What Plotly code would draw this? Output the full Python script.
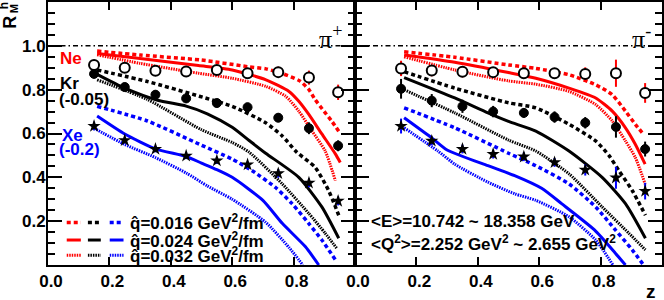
import plotly.graph_objects as go
import numpy as np

# ---------------- data ----------------
Z_PTS = [0.15, 0.25, 0.35, 0.45, 0.55, 0.65, 0.75, 0.85, 0.945]

# pi+ (left panel) measured points
PIP_NE = [0.913, 0.900, 0.886, 0.883, 0.890, 0.875, 0.880, 0.855, 0.788]
PIP_NE_ERR = [0.02, 0.015, 0.015, 0.015, 0.02, 0.025, 0.025, 0.032, 0.035]
PIP_KR = [0.872, 0.812, 0.777, 0.760, 0.739, 0.720, 0.672, 0.624, 0.544]
PIP_KR_ERR = [0.02, 0.02, 0.02, 0.02, 0.02, 0.02, 0.02, 0.027, 0.025]
PIP_XE = [0.634, 0.569, 0.529, 0.498, 0.476, 0.458, 0.418, 0.375, 0.292]
PIP_XE_ERR = [0.02, 0.015, 0.015, 0.015, 0.015, 0.015, 0.02, 0.02, 0.02]

# pi- (right panel) measured points
PIM_NE = [0.897, 0.887, 0.882, 0.880, 0.875, 0.875, 0.872, 0.875, 0.785]
PIM_NE_ERR = [0.035, 0.026, 0.026, 0.022, 0.02, 0.02, 0.03, 0.062, 0.045]
PIM_KR = [0.804, 0.750, 0.724, 0.700, 0.694, 0.675, 0.649, 0.630, 0.529]
PIM_KR_ERR = [0.045, 0.03, 0.03, 0.026, 0.022, 0.026, 0.026, 0.049, 0.034]
PIM_XE = [0.634, 0.566, 0.529, 0.506, 0.494, 0.468, 0.434, 0.398, 0.337]
PIM_XE_ERR = [0.034, 0.02, 0.02, 0.02, 0.02, 0.02, 0.026, 0.05, 0.038]

# theory curves, pi+ (left)
L_NE_DASH_Z = [0.16, 0.30, 0.50, 0.65, 0.71, 0.76, 0.82, 0.85, 0.87, 0.90, 0.925, 0.947]
L_NE_DASH_R = [0.976, 0.958, 0.935, 0.905, 0.895, 0.875, 0.84, 0.80, 0.755, 0.70, 0.655, 0.61]
L_NE_SOLID_Z = [0.16, 0.30, 0.49, 0.60, 0.71, 0.785, 0.817, 0.849, 0.892, 0.936, 0.952]
L_NE_SOLID_R = [0.965, 0.942, 0.91, 0.89, 0.845, 0.792, 0.747, 0.688, 0.598, 0.507, 0.468]
L_NE_DOT_Z = [0.16, 0.30, 0.49, 0.60, 0.71, 0.774, 0.817, 0.86, 0.903, 0.936]
L_NE_DOT_R = [0.959, 0.92, 0.875, 0.852, 0.815, 0.77, 0.702, 0.611, 0.52, 0.385]

L_KR_DASH_Z = [0.16, 0.324, 0.493, 0.60, 0.709, 0.763, 0.81, 0.87, 0.914, 0.947]
L_KR_DASH_R = [0.89, 0.837, 0.77, 0.724, 0.649, 0.589, 0.515, 0.446, 0.34, 0.227]
L_KR_SOLID_Z = [0.16, 0.25, 0.357, 0.45, 0.519, 0.60, 0.655, 0.709, 0.817, 0.892, 0.947]
L_KR_SOLID_R = [0.87, 0.807, 0.752, 0.725, 0.69, 0.628, 0.568, 0.51, 0.40, 0.265, 0.122]
L_KR_DOT_Z = [0.16, 0.324, 0.50, 0.60, 0.655, 0.763, 0.849, 0.903, 0.94]
L_KR_DOT_R = [0.845, 0.755, 0.617, 0.559, 0.515, 0.37, 0.236, 0.145, 0.077]

L_XE_DASH_Z = [0.16, 0.324, 0.493, 0.60, 0.665, 0.74, 0.795, 0.849, 0.892, 0.936]
L_XE_DASH_R = [0.724, 0.657, 0.551, 0.483, 0.43, 0.355, 0.28, 0.19, 0.114, 0.024]
L_XE_SOLID_Z = [0.16, 0.25, 0.35, 0.45, 0.50, 0.55, 0.60, 0.70, 0.763, 0.838, 0.882]
L_XE_SOLID_R = [0.68, 0.598, 0.53, 0.495, 0.465, 0.435, 0.40, 0.295, 0.19, 0.084, 0.0]
L_XE_DOT_Z = [0.15, 0.25, 0.35, 0.45, 0.52, 0.60, 0.709, 0.785, 0.83]
L_XE_DOT_R = [0.624, 0.55, 0.49, 0.42, 0.36, 0.30, 0.195, 0.08, 0.0]

# theory curves, pi- (right)
R_NE_DASH_Z = [0.16, 0.325, 0.50, 0.589, 0.697, 0.784, 0.838, 0.881, 0.913, 0.94]
R_NE_DASH_R = [0.973, 0.948, 0.913, 0.897, 0.868, 0.822, 0.777, 0.702, 0.642, 0.596]
R_NE_SOLID_Z = [0.16, 0.325, 0.50, 0.589, 0.697, 0.784, 0.838, 0.881, 0.913, 0.945]
R_NE_SOLID_R = [0.958, 0.925, 0.878, 0.852, 0.807, 0.762, 0.702, 0.626, 0.551, 0.46]
R_NE_DOT_Z = [0.16, 0.325, 0.50, 0.589, 0.697, 0.784, 0.838, 0.881, 0.913, 0.945]
R_NE_DOT_R = [0.95, 0.89, 0.84, 0.825, 0.792, 0.732, 0.657, 0.566, 0.491, 0.37]

R_KR_DASH_Z = [0.16, 0.325, 0.50, 0.589, 0.697, 0.784, 0.827, 0.86, 0.903, 0.946]
R_KR_DASH_R = [0.882, 0.807, 0.74, 0.717, 0.642, 0.566, 0.50, 0.43, 0.34, 0.227]
R_KR_SOLID_Z = [0.16, 0.325, 0.433, 0.50, 0.589, 0.697, 0.805, 0.881, 0.946]
R_KR_SOLID_R = [0.855, 0.762, 0.694, 0.655, 0.611, 0.52, 0.40, 0.28, 0.122]
R_KR_DOT_Z = [0.16, 0.325, 0.50, 0.589, 0.697, 0.805, 0.892, 0.946]
R_KR_DOT_R = [0.80, 0.694, 0.57, 0.52, 0.416, 0.265, 0.145, 0.069]

R_XE_DASH_Z = [0.16, 0.325, 0.50, 0.589, 0.697, 0.784, 0.848, 0.903, 0.94]
R_XE_DASH_R = [0.717, 0.626, 0.51, 0.453, 0.37, 0.265, 0.16, 0.069, 0.0]
R_XE_SOLID_Z = [0.16, 0.25, 0.30, 0.433, 0.52, 0.608, 0.673, 0.78, 0.848, 0.881]
R_XE_SOLID_R = [0.672, 0.58, 0.525, 0.453, 0.408, 0.35, 0.28, 0.16, 0.054, 0.0]
R_XE_DOT_Z = [0.16, 0.27, 0.325, 0.433, 0.52, 0.589, 0.697, 0.784, 0.84]
R_XE_DOT_R = [0.626, 0.52, 0.46, 0.378, 0.325, 0.295, 0.22, 0.114, 0.0]

X_TICKS = [0.0, 0.2, 0.4, 0.6, 0.8]
X_LABELS = ["0.0", "0.2", "0.4", "0.6", "0.8"]
Y_TICKS = [0.2, 0.4, 0.6, 0.8, 1.0]
Y_LABELS = ["0.2", "0.4", "0.6", "0.8", "1.0"]
QHAT_LABELS = ["0.016", "0.024", "0.032"]

# ---------------- styling ----------------
RED, BLACK, BLUE = "#ff0000", "#000000", "#0000ff"
FONT = "Liberation Sans"
STYLES = {
    "dash": dict(width=3.5, dash="4px,3px"),
    "solid": dict(width=3, dash="solid"),
    "dot": dict(width=3, dash="1.5px,1px"),
}

fig = go.Figure()


def add_curve(z, r, color, style, xa, ya):
    fig.add_trace(go.Scatter(
        x=z, y=r, mode="lines", xaxis=xa, yaxis=ya,
        line=dict(color=color, shape="spline", smoothing=0.6, **STYLES[style]),
        showlegend=False, hoverinfo="skip"))


def add_points(r, err, ecolor, symbol, fill, size, lw, xa, ya):
    fig.add_trace(go.Scatter(
        x=Z_PTS, y=r, mode="markers", xaxis=xa, yaxis=ya,
        error_y=dict(type="data", array=err, color=ecolor, thickness=2, width=0),
        marker=dict(symbol=symbol, size=size, color=fill,
                    line=dict(color="black", width=lw)),
        showlegend=False, hoverinfo="skip"))


panels = [
    ("x", "y",
     [(L_NE_DASH_Z, L_NE_DASH_R, RED, "dash"), (L_NE_SOLID_Z, L_NE_SOLID_R, RED, "solid"),
      (L_NE_DOT_Z, L_NE_DOT_R, RED, "dot"),
      (L_KR_DASH_Z, L_KR_DASH_R, BLACK, "dash"), (L_KR_SOLID_Z, L_KR_SOLID_R, BLACK, "solid"),
      (L_KR_DOT_Z, L_KR_DOT_R, BLACK, "dot"),
      (L_XE_DASH_Z, L_XE_DASH_R, BLUE, "dash"), (L_XE_SOLID_Z, L_XE_SOLID_R, BLUE, "solid"),
      (L_XE_DOT_Z, L_XE_DOT_R, BLUE, "dot")],
     (PIP_NE, PIP_NE_ERR), (PIP_KR, PIP_KR_ERR), (PIP_XE, PIP_XE_ERR)),
    ("x2", "y2",
     [(R_NE_DASH_Z, R_NE_DASH_R, RED, "dash"), (R_NE_SOLID_Z, R_NE_SOLID_R, RED, "solid"),
      (R_NE_DOT_Z, R_NE_DOT_R, RED, "dot"),
      (R_KR_DASH_Z, R_KR_DASH_R, BLACK, "dash"), (R_KR_SOLID_Z, R_KR_SOLID_R, BLACK, "solid"),
      (R_KR_DOT_Z, R_KR_DOT_R, BLACK, "dot"),
      (R_XE_DASH_Z, R_XE_DASH_R, BLUE, "dash"), (R_XE_SOLID_Z, R_XE_SOLID_R, BLUE, "solid"),
      (R_XE_DOT_Z, R_XE_DOT_R, BLUE, "dot")],
     (PIM_NE, PIM_NE_ERR), (PIM_KR, PIM_KR_ERR), (PIM_XE, PIM_XE_ERR)),
]

for xa, ya, curves, ne, kr, xe in panels:
    for z, r, c, s in curves:
        add_curve(z, r, c, s, xa, ya)
    add_points(xe[0], xe[1], BLUE, "star", "black", 10, 0, xa, ya)
    add_points(kr[0], kr[1], BLACK, "circle", "black", 9, 1, xa, ya)
    add_points(ne[0], ne[1], RED, "circle", "white", 10, 2, xa, ya)

# ---------------- axes ----------------
tickfont = dict(family=FONT, size=17, color="black", weight="bold")
xcommon = dict(range=[0, 1], showline=True, linecolor="black", linewidth=2,
               mirror="allticks", ticks="inside", ticklen=8, tickwidth=1.5,
               tickcolor="black", tickvals=X_TICKS, ticktext=X_LABELS,
               tickfont=tickfont, showgrid=False, zeroline=False,
               ticklabelshift=3)
ycommon = dict(range=[0, 1.2], showline=True, linecolor="black", linewidth=2,
               mirror="allticks", ticks="inside", ticklen=14, tickwidth=1.5,
               tickcolor="black", tickvals=Y_TICKS, ticktext=Y_LABELS,
               tickfont=tickfont, showgrid=False, zeroline=False,
               minor=dict(tickmode="linear", tick0=0, dtick=0.05, ticks="inside",
                          ticklen=7, tickwidth=1.5, tickcolor="black", showgrid=False))

fig.update_layout(
    width=664, height=300,
    margin=dict(l=48, r=1, t=0, b=35),
    paper_bgcolor="white", plot_bgcolor="white",
    showlegend=False,
    xaxis=dict(domain=[0, 0.5], anchor="y", **xcommon),
    xaxis2=dict(domain=[0.5, 1], anchor="y2", **xcommon),
    yaxis=dict(anchor="x", ticklabelstandoff=-3, **ycommon),
    yaxis2=dict(anchor="x2", showticklabels=False,
                **{k: v for k, v in ycommon.items() if k != "tickfont"}),
)

# reference line at unity across both panels
fig.add_shape(type="line", xref="paper", yref="y", x0=0, x1=1, y0=1.0, y1=1.0,
              line=dict(color="black", width=1.5, dash="5px,3px,1.5px,3px"))

# ---------------- texts ----------------
def ann(text, x, y, xref, yref, size=17, color="black", xanchor="left",
        yanchor="middle", family=FONT, weight="bold", angle=0):
    fig.add_annotation(text=text, x=x, y=y, xref=xref, yref=yref,
                       xanchor=xanchor, yanchor=yanchor, showarrow=False,
                       textangle=angle,
                       font=dict(family=family, size=size, color=color, weight=weight))

ann("Ne", 0.032, 0.94, "x", "y", color=RED)
ann("Kr", 0.032, 0.826, "x", "y")
ann("(-0.05)", 0.030, 0.754, "x", "y")
ann("Xe", 0.039, 0.593, "x", "y", color=BLUE)
ann("(-0.2)", 0.030, 0.528, "x", "y", color=BLUE)

ann("\u03c0<sup>+</sup>", 0.965, 1.04, "x", "y", size=26, xanchor="right",
    family="Liberation Serif", weight="normal")
ann("\u03c0<sup>-</sup>", 0.97, 1.04, "x2", "y2", size=26, xanchor="right",
    family="Liberation Serif", weight="normal")

leg_y = [0.194, 0.114, 0.045]
leg_styles = ["dash", "solid", "dot"]
for i, q in enumerate(QHAT_LABELS):
    ann("q\u0302=" + q + " GeV<sup>2</sup>/fm", 0.262, leg_y[i], "x", "y")
    for c, (x0, x1) in zip([RED, BLACK, BLUE], [(0.061, 0.107), (0.130, 0.172), (0.201, 0.246)]):
        st = STYLES[leg_styles[i]]
        fig.add_shape(type="line", xref="x", yref="y", x0=x0, x1=x1,
                      y0=leg_y[i], y1=leg_y[i],
                      line=dict(color=c, width=st["width"], dash=st["dash"]))

ann("&lt;E&gt;=10.742 ~ 18.358 GeV", 0.045, 0.198, "x2", "y2")
ann("&lt;Q<sup>2</sup>&gt;=2.252 GeV<sup>2</sup> ~ 2.655 GeV<sup>2</sup>", 0.045, 0.10, "x2", "y2")

# axis titles
ann("z", 0.982, -0.10, "paper", "paper", size=19, xanchor="center")
ann("R", -0.062, 0.925, "paper", "paper", size=18, xanchor="center", angle=-90)
ann("M", -0.056, 0.975, "paper", "paper", size=11, xanchor="center", angle=-90)
ann("h", -0.071, 0.985, "paper", "paper", size=12, xanchor="center", angle=-90)

fig.write_html("out.html", config={"displayModeBar": False},
               post_script="document.body.style.margin='0';document.body.style.padding='0';")
